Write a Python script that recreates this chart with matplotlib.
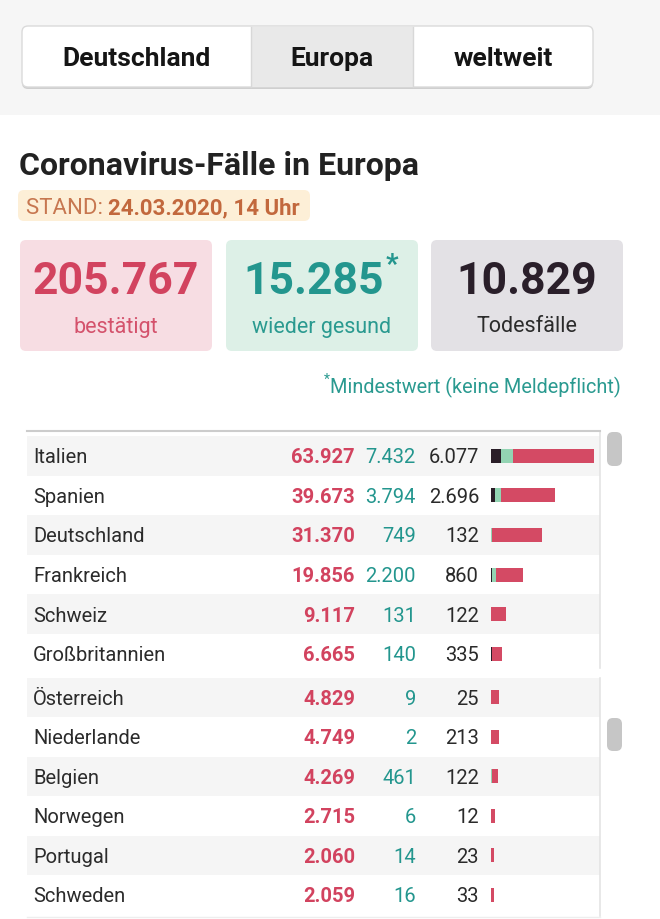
import matplotlib
matplotlib.use('Agg')
import matplotlib.pyplot as plt
from matplotlib.patches import FancyBboxPatch, Rectangle

plt.rcParams['font.family'] = ['Roboto', 'DejaVu Sans']

W, H = 660, 919

# --- data ---
tabs = ['Deutschland', 'Europa', 'weltweit']
active_tab = 'Europa'
title = 'Coronavirus-Fälle in Europa'
stand_label = 'STAND: '
stand_date = '24.03.2020, 14 Uhr'
total_labels = ['bestätigt', 'wieder gesund', 'Todesfälle']
total_values = [205767, 15285, 10829]
footnote = 'Mindestwert (keine Meldepflicht)'

countries_top = ['Italien', 'Spanien', 'Deutschland', 'Frankreich', 'Schweiz', 'Großbritannien']
confirmed_top = [63927, 39673, 31370, 19856, 9117, 6665]
recovered_top = [7432, 3794, 749, 2200, 131, 140]
deaths_top = [6077, 2696, 132, 860, 122, 335]

countries_bottom = ['Österreich', 'Niederlande', 'Belgien', 'Norwegen', 'Portugal', 'Schweden']
confirmed_bottom = [4829, 4749, 4269, 2715, 2060, 2059]
recovered_bottom = [9, 2, 461, 6, 14, 16]
deaths_bottom = [25, 213, 122, 12, 23, 33]

# --- colours ---
RED = '#d2435f'
TEAL = '#23968e'
DARK = '#2a1f2a'
BAR_RED = '#d44a64'
BAR_GREEN = '#93d4b3'
BAR_DARK = '#2a1e28'


def de(v):
    return f"{v:,}".replace(',', '.')


fig = plt.figure(figsize=(W / 100, H / 100), dpi=100)
ax = fig.add_axes([0, 0, 1, 1])
ax.set_xlim(0, W)
ax.set_ylim(H, 0)
ax.axis('off')


def rbox(x, y, w, h, fc, ec='none', r=6, lw=1, z=1):
    p = FancyBboxPatch((x, y), w, h, boxstyle=f"round,pad=0,rounding_size={r}",
                       fc=fc, ec=ec, lw=lw, zorder=z)
    ax.add_patch(p)
    return p


def right_edge(t):
    bb = t.get_window_extent(renderer)
    return ax.transData.inverted().transform((bb.x1, bb.y0))[0]


def left_edge(t):
    bb = t.get_window_extent(renderer)
    return ax.transData.inverted().transform((bb.x0, bb.y0))[0]


renderer = fig.canvas.get_renderer()

# top grey band with tabs
ax.add_patch(Rectangle((0, 0), W, 115, fc='#f6f6f6', ec='none', zorder=0))
rbox(22, 28, 571, 61, '#cfcfcf', r=6, z=1)  # shadow
rbox(22, 26, 571, 61, 'white', ec='#dadada', r=6, z=2)
tab_edges = [22, 251, 413, 593]
for i, name in enumerate(tabs):
    x0, x1 = tab_edges[i], tab_edges[i + 1]
    if name == active_tab:
        ax.add_patch(Rectangle((x0, 26.5), x1 - x0, 60, fc='#e9e9e9', ec='none', zorder=3))
    if i > 0:
        ax.plot([x0, x0], [26.5, 86.5], color='#d8d8d8', lw=1, zorder=4)
    ax.text((x0 + x1) / 2, 59, name, ha='center', va='center', fontsize=19,
            fontweight='bold', color='#151515', zorder=5)

# title + stand
ax.text(19, 166, title, ha='left', va='center', fontsize=23, fontweight='bold', color='#222222')
rbox(18, 190, 292, 31, '#fdefd7', r=6)
t1 = ax.text(26, 208, stand_label, ha='left', va='center', fontsize=16, color='#c77750')
t2 = ax.text(right_edge(t1), 208, stand_date, ha='left', va='center', fontsize=16,
             fontweight='bold', color='#c2683d')

# summary boxes
box_x = [20, 226, 431]
box_bg = ['#f7dde3', '#ddf0e7', '#e3e1e5']
num_col = [RED, TEAL, DARK]
lab_col = ['#d4526c', '#2a9a90', '#2b2b2b']
for i in range(3):
    x = box_x[i]
    rbox(x, 240, 192, 111, box_bg[i], r=6)
    cx = x + 96
    if i == 1:
        tn = ax.text(cx - 8, 282, de(total_values[i]), ha='center', va='center', fontsize=32,
                     fontweight='bold', color=num_col[i])
        ax.text(right_edge(tn) + 1, 265, '*', ha='left', va='center', fontsize=20,
                fontweight='bold', color=num_col[i])
    else:
        ax.text(cx, 282, de(total_values[i]), ha='center', va='center', fontsize=32,
                fontweight='bold', color=num_col[i])
    ax.text(cx, 327, total_labels[i], ha='center', va='center', fontsize=15.5, color=lab_col[i])

tf = ax.text(621, 387, footnote, ha='right', va='center', fontsize=14.3, color='#2a9a90')
ax.text(left_edge(tf) - 0.5, 380, '*', ha='right', va='center', fontsize=10, color='#2a9a90')

# table
sections = [
    (countries_top, confirmed_top, recovered_top, deaths_top, 436, 39.6, 668),
    (countries_bottom, confirmed_bottom, recovered_bottom, deaths_bottom, 677.5, 39.5, 916),
]

ax_bar = fig.add_axes([491 / W, 0, 109 / W, 1])
ax_bar.set_ylim(H, 0)
xmax = max(confirmed_top) * 109 / 103
ax_bar.set_xlim(0, xmax)
ax_bar.axis('off')

for names, conf, rec, dead, top, step, bottom in sections:
    ys = [top + step * (k + 0.5) for k in range(len(names))]
    for k, yc in enumerate(ys):
        y0 = top + step * k
        ty = yc + 2
        if k % 2 == 0:
            ax.add_patch(Rectangle((27, y0), 573, min(step, bottom - y0),
                                   fc='#f5f5f5', ec='none', zorder=1))
        ax.text(33, ty, names[k], ha='left', va='center', fontsize=14.5, color='#2b2b2b', zorder=3)
        ax.text(355, ty, de(conf[k]), ha='right', va='center', fontsize=14.5,
                fontweight='bold', color=RED, zorder=3)
        ax.text(416, ty, de(rec[k]), ha='right', va='center', fontsize=14.5, color=TEAL, zorder=3)
        ax.text(479, ty, de(dead[k]), ha='right', va='center', fontsize=14.5, color='#2a2a2a', zorder=3)
    rest = [c - r - d for c, r, d in zip(conf, rec, dead)]
    left_g = dead
    left_r = [d + r for d, r in zip(dead, rec)]
    ax_bar.barh(ys, dead, height=14, color=BAR_DARK, lw=0)
    ax_bar.barh(ys, rec, left=left_g, height=14, color=BAR_GREEN, lw=0)
    ax_bar.barh(ys, rest, left=left_r, height=14, color=BAR_RED, lw=0)
    ax.plot([600, 600], [top - 5 if top < 500 else top, bottom], color='#e4e4e4', lw=1.2, zorder=2)

ax.plot([27, 600], [431, 431], color='#cccccc', lw=1.5, zorder=2)
ax.plot([27, 600], [916.5, 916.5], color='#eeeeee', lw=1, zorder=2)
# scrollbar thumbs
rbox(607, 432, 15, 34, '#c6c6c6', r=6)
rbox(607, 718, 15, 33, '#c6c6c6', r=6)

fig.savefig('out.png', dpi=100)
